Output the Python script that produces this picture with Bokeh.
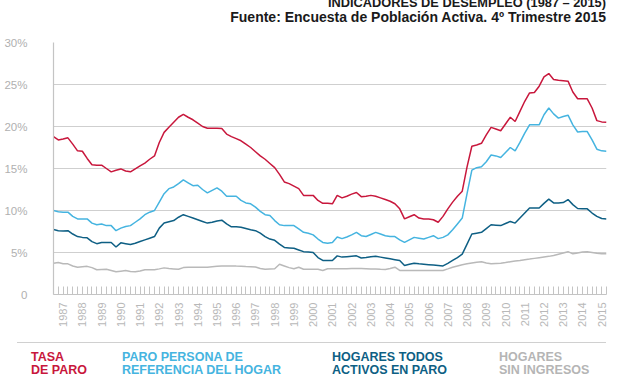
import math
from bokeh.plotting import figure
from bokeh.layouts import column
from bokeh.models import Range1d, FixedTicker, Div
from bokeh.embed import file_html
from bokeh.resources import INLINE

# ---------------- data ----------------
years = list(range(1987, 2016))
quarters_per_year = 4

tasa_paro = [
    18.8, 18.4, 18.5, 18.65,   # 1987
    17.9, 17.1, 17.05, 16.2,   # 1988
    15.45, 15.4, 15.4, 15.0,   # 1989
    14.6, 14.8, 14.95, 14.7,   # 1990
    14.6, 14.95, 15.3, 15.65,  # 1991
    16.1, 16.5, 18.1, 19.3,    # 1992
    19.9, 20.5, 21.1, 21.45,   # 1993
    21.1, 20.8, 20.4, 20.0,    # 1994
    19.8, 19.8, 19.8, 19.75,   # 1995
    19.1, 18.8, 18.55, 18.3,   # 1996
    17.9, 17.5, 17.0, 16.5,    # 1997
    16.1, 15.6, 15.1, 14.3,    # 1998
    13.4, 13.2, 12.9, 12.6,    # 1999
    11.8, 11.8, 11.8, 11.2,    # 2000
    10.85, 10.85, 10.8, 11.8,  # 2001
    11.5, 11.7, 11.95, 12.14,  # 2002
    11.65, 11.7, 11.8, 11.7,   # 2003
    11.5, 11.3, 11.1, 10.8,    # 2004
    10.2, 9.0, 9.25, 9.5,      # 2005
    9.1, 9.0, 9.0, 8.9,        # 2006
    8.6, 9.3, 10.2, 11.0,      # 2007
    11.7, 12.3, 15.2, 17.65,   # 2008
    17.8, 18.0, 19.0, 19.9,    # 2009
    19.7, 19.5, 20.3, 21.1,    # 2010
    20.6, 21.8, 23.0, 24.0,    # 2011
    24.05, 24.8, 25.9, 26.3,   # 2012
    25.6, 25.5, 25.45, 25.4,   # 2013
    24.1, 23.3, 23.3, 23.3,    # 2014
    22.2, 20.7, 20.55, 20.5,   # 2015
]

paro_persona_referencia = [
    10.0, 9.85, 9.8, 9.8,
    9.3, 9.0, 9.0, 9.0,
    8.5, 8.3, 8.4, 8.2,
    8.2, 7.6, 7.9, 8.1,
    8.2, 8.6, 9.0, 9.5,
    9.8, 10.0, 11.0, 12.0,
    12.6, 12.8, 13.2, 13.65,
    13.3, 12.95, 13.0, 12.5,
    12.1, 12.4, 12.7, 12.3,
    11.7, 11.7, 11.7, 11.2,
    10.9, 10.8, 10.4, 9.9,
    9.5, 9.4, 8.8, 8.3,
    8.2, 8.2, 8.2, 7.8,
    7.4, 7.3, 7.1, 6.6,
    6.2, 6.1, 6.2, 6.85,
    6.65, 6.85, 7.1, 7.4,
    7.0, 6.9, 7.15, 7.4,
    7.2, 7.0, 6.9, 6.9,
    6.5, 6.2, 6.5, 6.8,
    6.7, 6.6, 6.8, 7.0,
    6.65, 6.8, 7.1, 7.7,
    8.4, 9.1, 12.0, 14.8,
    15.1, 15.2, 15.8, 16.6,
    16.5, 16.3, 16.9, 17.5,
    17.1, 18.1, 19.2, 20.2,
    20.2, 20.2, 21.4, 22.2,
    21.5, 21.0, 21.2, 21.35,
    20.2, 19.35, 19.4, 19.4,
    18.4, 17.3, 17.1, 17.06,
]

hogares_todos_activos_paro = [
    7.74, 7.6, 7.55, 7.6,
    7.2, 6.9, 6.8, 6.75,
    6.3, 6.05, 6.2, 6.2,
    6.2, 5.65, 6.15, 6.05,
    5.95, 6.1, 6.3, 6.5,
    6.7, 6.9, 7.9, 8.5,
    8.65, 8.8, 9.2, 9.5,
    9.3, 9.1, 8.9, 8.7,
    8.5, 8.6, 8.75, 8.85,
    8.4, 8.06, 8.06, 8.0,
    7.85, 7.7, 7.6, 7.3,
    6.9, 6.6, 6.45, 6.0,
    5.6, 5.55, 5.5, 5.3,
    5.1, 5.05, 5.0, 4.4,
    4.05, 4.05, 4.05, 4.6,
    4.45, 4.5, 4.55, 4.6,
    4.35, 4.4, 4.5, 4.55,
    4.45, 4.35, 4.25, 4.15,
    4.05, 3.45, 3.6, 3.72,
    3.65, 3.6, 3.55, 3.5,
    3.45, 3.4, 3.7, 4.05,
    4.4, 4.8, 6.0, 7.2,
    7.3, 7.4, 7.85, 8.3,
    8.25, 8.2, 8.45, 8.7,
    8.5, 9.1, 9.7, 10.3,
    10.3, 10.3, 10.85, 11.35,
    10.9, 10.9, 10.95, 11.3,
    10.7, 10.24, 10.2, 10.2,
    9.7, 9.3, 9.05, 9.0,
]

hogares_sin_ingresos = [
    3.73, 3.8, 3.65, 3.65,
    3.4, 3.25, 3.3, 3.35,
    3.2, 2.94, 2.97, 3.0,
    2.85, 2.7, 2.78, 2.86,
    2.75, 2.7, 2.8, 2.94,
    2.94, 2.94, 3.05, 3.17,
    3.1, 3.05, 3.0, 3.2,
    3.25, 3.25, 3.25, 3.25,
    3.25, 3.3, 3.35, 3.4,
    3.4, 3.4, 3.38, 3.37,
    3.33, 3.3, 3.27, 3.1,
    3.0, 3.03, 3.06, 3.6,
    3.4, 3.2, 3.06, 3.25,
    3.0, 3.0, 3.0, 3.0,
    2.86, 3.06, 3.06, 3.06,
    3.07, 3.08, 3.09, 3.1,
    3.1, 3.08, 3.05, 3.03,
    3.0, 2.98, 3.1, 3.25,
    2.86, 2.86, 2.86, 2.86,
    2.86, 2.86, 2.86, 2.86,
    2.86, 2.86, 3.05, 3.25,
    3.4, 3.55, 3.65, 3.75,
    3.85, 3.9, 3.75, 3.65,
    3.7, 3.73, 3.8, 3.9,
    3.98, 4.06, 4.15, 4.22,
    4.3, 4.38, 4.46, 4.54,
    4.64, 4.8, 4.95, 5.1,
    4.84, 4.95, 5.05, 5.1,
    5.0, 4.9, 4.84, 4.84,
]

y_ticks = [0, 5, 10, 15, 20, 25, 30]
y_tick_labels = ["0", "5%", "10%", "15%", "20%", "25%", "30%"]

legend_line1 = ["TASA", "PARO PERSONA DE", "HOGARES TODOS", "HOGARES"]
legend_line2 = ["DE PARO", "REFERENCIA DEL HOGAR", "ACTIVOS EN PARO", "SIN INGRESOS"]

title_lines = ["INDICADORES DE DESEMPLEO (1987 – 2015)",
               "Fuente: Encuesta de Población Activa. 4º Trimestre 2015"]

# ---------------- styles / layout ----------------
series = [tasa_paro, paro_persona_referencia, hogares_todos_activos_paro, hogares_sin_ingresos]
colors = ["#c8173c", "#45b4e0", "#0e5f84", "#b9b9b9"]
legend_colors = ["#c8173c", "#45b4e0", "#0e5f84", "#b5b5b5"]

W = 627
H_TOP, H_MAIN, H_LEG = 30, 310, 36
LEFT, RIGHT = 53, 606
MAIN_TOP_BORDER, MAIN_BOTTOM_BORDER = 12, 46

x_vals = [yr + q / quarters_per_year for yr in years for q in range(quarters_per_year)]
x0, x1 = years[0], years[-1] + (quarters_per_year - 1) / quarters_per_year

# ---- title block ----
title_html = (
    f'<div style="position:relative;width:{W}px;height:{H_TOP}px;overflow:hidden;'
    f'font-family:\'Liberation Sans\';font-weight:bold;color:#1a1a1a;">'
    f'<div style="position:absolute;right:{W - RIGHT}px;top:-4px;font-size:12.8px;'
    f'line-height:14px;white-space:nowrap;">{title_lines[0]}</div>'
    f'<div style="position:absolute;right:{W - RIGHT}px;top:10px;font-size:14px;'
    f'line-height:14px;white-space:nowrap;">{title_lines[1]}</div>'
    f'</div>'
)
top = Div(text=title_html, width=W, height=H_TOP, margin=0)

# ---- main chart ----
p = figure(width=W, height=H_MAIN, output_backend="svg", toolbar_location=None,
           x_range=Range1d(x0, x1), y_range=Range1d(0, 30),
           min_border_left=LEFT, min_border_right=W - RIGHT,
           min_border_top=MAIN_TOP_BORDER, min_border_bottom=MAIN_BOTTOM_BORDER,
           margin=0)
p.outline_line_color = None
p.background_fill_color = "white"
p.border_fill_color = "white"

p.xgrid.grid_line_color = None
p.ygrid.grid_line_color = "#cfcfcf"
p.ygrid.grid_line_width = 1.2
p.ygrid.ticker = FixedTicker(ticks=y_ticks)

p.yaxis.ticker = FixedTicker(ticks=y_ticks)
p.yaxis.major_label_overrides = {t: l for t, l in zip(y_ticks, y_tick_labels)}
p.yaxis.major_tick_line_color = None
p.yaxis.minor_tick_line_color = None
p.yaxis.axis_line_color = "#c4c4c4"
p.yaxis.axis_line_width = 1.2
p.yaxis.major_label_text_color = "#b0b0b0"
p.yaxis.major_label_text_font = "Liberation Sans"
p.yaxis.major_label_text_font_size = "11.5px"
p.yaxis.major_label_standoff = 20

p.xaxis.ticker = FixedTicker(ticks=[yr + 0.5 for yr in years], minor_ticks=x_vals)
p.xaxis.major_label_overrides = {yr + 0.5: str(yr) for yr in years}
p.xaxis.major_label_orientation = math.pi / 2
p.xaxis.major_tick_line_color = None
p.xaxis.major_tick_out = 0
p.xaxis.major_tick_in = 0
p.xaxis.minor_tick_line_color = "#c4c4c4"
p.xaxis.minor_tick_in = 8
p.xaxis.minor_tick_out = 0
p.xaxis.axis_line_color = "#c4c4c4"
p.xaxis.axis_line_width = 1.2
p.xaxis.major_label_text_color = "#b8b8b8"
p.xaxis.major_label_text_font = "Liberation Sans"
p.xaxis.major_label_text_font_size = "11px"
p.xaxis.major_label_standoff = 8

for vals, c in zip(series[::-1], colors[::-1]):
    p.line(x_vals, vals, line_color=c, line_width=1.5)

# ---- legend block ----
leg_x = [31, 122, 332, 499]
items = "".join(
    f'<div style="position:absolute;left:{x}px;top:11px;font-size:12.5px;line-height:12.5px;'
    f'white-space:nowrap;color:{c};">{a}<br>{b}</div>'
    for x, c, a, b in zip(leg_x, legend_colors, legend_line1, legend_line2)
)
legend_html = (
    f'<div style="position:relative;width:{W}px;height:{H_LEG}px;overflow:hidden;'
    f'font-family:\'Liberation Sans\';font-weight:bold;">'
    f'<div style="position:absolute;left:17px;top:2px;width:{RIGHT - 17}px;height:0;'
    f'border-top:1.5px solid #d0d0d0;"></div>'
    f'{items}</div>'
)
leg = Div(text=legend_html, width=W, height=H_LEG, margin=0)

layout = column(top, p, leg, spacing=0)
open("out.html", "w").write(file_html(layout, INLINE))
